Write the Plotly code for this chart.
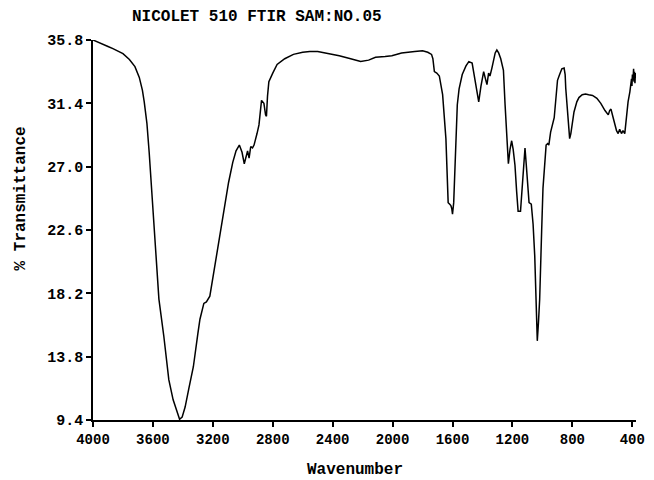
import plotly.graph_objects as go

wavenumber = [4000, 3950, 3900, 3867, 3800, 3757, 3720, 3691, 3670, 3658, 3640, 3625, 3604, 3585, 3571,
              3560, 3527, 3494, 3465, 3450, 3432, 3422, 3405, 3385, 3360, 3330, 3300, 3286, 3260, 3243,
              3220, 3195, 3166, 3140, 3122, 3095, 3067, 3045, 3023, 3005, 2990, 2980, 2968, 2958, 2947,
              2935, 2925, 2905, 2892, 2875, 2868, 2859, 2848, 2842, 2835, 2826, 2800, 2771, 2720, 2662,
              2600, 2553, 2500, 2443, 2400, 2356, 2280, 2213, 2160, 2114, 2050, 2005, 1940, 1880, 1852,
              1800, 1765, 1740, 1731, 1721, 1705, 1688, 1666, 1644, 1629, 1620, 1611, 1605, 1600, 1592,
              1585, 1568, 1556, 1535, 1510, 1491, 1469, 1453, 1440, 1425, 1410, 1392, 1380, 1370, 1359,
              1350, 1337, 1326, 1315, 1304, 1292, 1278, 1260, 1249, 1227, 1216, 1205, 1195, 1183, 1172,
              1162, 1146, 1128, 1116, 1108, 1102, 1089, 1074, 1062, 1051, 1042, 1034, 1026, 1018, 1005,
              996, 975, 965, 957, 945, 921, 910, 899, 885, 870, 855, 848, 844, 830, 818,
              810, 800, 789, 770, 756, 734, 712, 691, 665, 636, 610, 582, 570, 560, 551,
              542, 530, 516, 505, 494, 484, 472, 462, 450, 444, 439, 428, 416, 410, 405,
              402, 399, 395, 391, 388, 385, 382, 379, 376]

transmittance = [35.8, 35.55, 35.35, 35.2, 34.85, 34.45, 33.95, 33.2, 32.3, 31.5, 30.0, 28.0, 24.6, 21.8, 19.9,
                 17.8, 15.2, 12.2, 10.8, 10.3, 9.7, 9.45, 9.6, 10.3, 11.6, 13.1, 15.4, 16.4, 17.5, 17.6,
                 18.0, 19.6, 21.5, 23.1, 24.3, 25.9, 27.3, 28.1, 28.5, 28.0, 27.2, 27.6, 28.1, 27.6, 28.4,
                 28.3, 28.5, 29.3, 29.9, 31.6, 31.5, 31.4, 30.6, 30.5, 31.9, 32.9, 33.5, 34.1, 34.5, 34.8,
                 34.95, 35.0, 35.0, 34.9, 34.8, 34.7, 34.5, 34.3, 34.4, 34.6, 34.65, 34.7, 34.9, 35.0, 35.0,
                 35.05, 34.95, 34.8, 34.5, 33.6, 33.5, 33.3, 32.0, 28.95, 24.5, 24.4, 24.3, 24.1, 23.7, 24.5,
                 26.2, 31.3, 32.4, 33.4, 34.0, 34.3, 34.2, 33.3, 32.6, 31.5, 32.6, 33.6, 33.1, 32.7, 33.5,
                 33.3, 33.85, 34.5, 34.9, 35.1, 34.9, 34.5, 33.7, 31.3, 27.2, 28.2, 28.8, 28.2, 27.1, 25.3,
                 23.9, 23.9, 26.2, 28.3, 27.2, 26.2, 24.5, 24.4, 23.0, 20.8, 17.8, 14.9, 16.2, 17.8, 22.5,
                 25.5, 28.5, 28.6, 28.5, 29.4, 30.4, 31.9, 33.0, 33.4, 33.8, 33.85, 33.4, 32.45, 30.5, 28.95,
                 29.3, 30.0, 30.8, 31.5, 31.8, 32.0, 32.05, 32.0, 31.95, 31.75, 31.4, 30.9, 30.75, 30.6, 30.9,
                 31.0, 30.5, 29.8, 29.5, 29.3, 29.6, 29.3, 29.5, 29.3, 29.9, 30.6, 31.5, 32.2, 32.9, 33.1,
                 32.6, 33.4, 33.0, 33.8, 32.9, 33.6, 32.8, 33.5, 33.1]

x_ticks = [4000, 3600, 3200, 2800, 2400, 2000, 1600, 1200, 800, 400]
y_ticks = [9.4, 13.8, 18.2, 22.6, 27.0, 31.4, 35.8]
y_ticktext = ["9.4", "13.8", "18.2", "22.6", "27.0", "31.4", "35.8"]

FONT = "Liberation Mono"

fig = go.Figure()
fig.add_trace(go.Scatter(x=wavenumber, y=transmittance, mode="lines",
                         line=dict(color="black", width=1.5), showlegend=False))

# plot area: x 93..645 px, y 40..420 px
fig.update_layout(
    width=654, height=480,
    margin=dict(l=93, r=9, t=40, b=60),
    paper_bgcolor="white", plot_bgcolor="white",
    font=dict(family=FONT, color="black"),
    xaxis=dict(range=[4000, 375], tickvals=x_ticks, ticks="outside", ticklen=5, tickwidth=1.5,
               tickcolor="black", showline=True, linecolor="black", linewidth=1.5, showgrid=False,
               zeroline=False,
               tickfont=dict(family=FONT, size=14, color="black", weight="bold")),
    yaxis=dict(range=[9.4, 35.8], tickvals=y_ticks, ticktext=y_ticktext, ticks="outside", ticklen=5,
               tickwidth=1.5, tickcolor="black", showline=True, linecolor="black", linewidth=1.5,
               showgrid=False, zeroline=False,
               tickfont=dict(family=FONT, size=15, color="black", weight="bold")),
    annotations=[
        dict(text="NICOLET 510 FTIR SAM:NO.05", xref="paper", yref="paper", x=0.3025, y=1.0605,
             xanchor="center", yanchor="middle", showarrow=False,
             font=dict(family=FONT, size=16, color="black", weight="bold")),
        dict(text="Wavenumber", xref="paper", yref="paper", x=0.482, y=-0.1316,
             xanchor="center", yanchor="middle", showarrow=False,
             font=dict(family=FONT, size=16, color="black", weight="bold")),
        dict(text="% Transmittance", xref="paper", yref="paper", x=-0.132, y=0.584,
             xanchor="center", yanchor="middle", showarrow=False, textangle=-90,
             font=dict(family=FONT, size=16, color="black", weight="bold")),
    ],
)

fig.write_html("out.html", config={"displayModeBar": False},
               post_script="document.body.style.margin='0';")
